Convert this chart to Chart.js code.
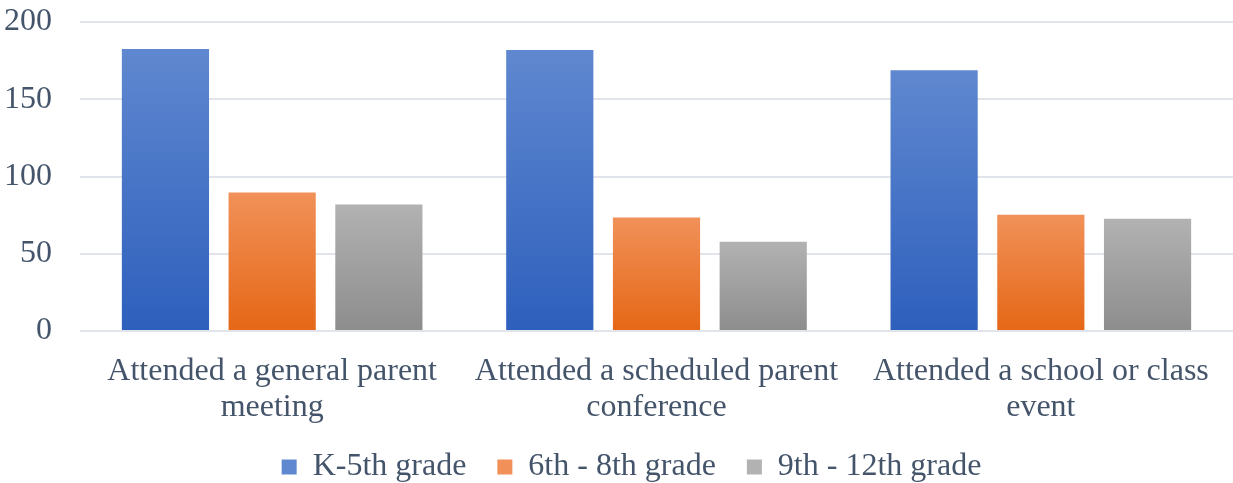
<!DOCTYPE html>
<html>
<head>
<meta charset="utf-8">
<script src="https://cdn.jsdelivr.net/npm/chart.js@4"></script>
<style>
  html, body { margin: 0; padding: 0; background: #fff; }
  #wrap { width: 1233px; height: 483px; }
</style>
</head>
<body>
<div id="wrap"><canvas id="chart"></canvas></div>
<script>
const categories = [
    ['Attended a general parent', 'meeting'],
    ['Attended a scheduled parent', 'conference'],
    ['Attended a school or class', 'event']
];
const seriesNames = ['K-5th grade', '6th - 8th grade', '9th - 12th grade'];
const k5 = [182.5, 181.8, 168.8];
const g68 = [89.6, 73.4, 75.3];
const g912 = [81.8, 57.8, 72.7];
const yTicks = [0, 50, 100, 150, 200];

// top colour, bottom colour per series
const shades = [
    ['#6088d0', '#2d5fbc'],
    ['#f19159', '#e56716'],
    ['#b2b2b2', '#8d8d8d']
];

function barFill(i) {
    return ctx => {
        const chart = ctx.chart;
        const y = chart.scales.y;
        if (!y || ctx.raw == null) return shades[i][1];
        const top = y.getPixelForValue(ctx.raw);
        const bottom = y.getPixelForValue(0);
        const g = chart.ctx.createLinearGradient(0, top, 0, bottom);
        g.addColorStop(0, shades[i][0]);
        g.addColorStop(1, shades[i][1]);
        return g;
    };
}

// excel puts the legend a bit right of centre and close under the labels
const legendNudge = {
    id: 'legendNudge',
    afterLayout(chart) {
        const lg = chart.legend;
        if (!lg) return;
        lg.left += 15; lg.right += 15;
        lg.top -= 7; lg.bottom -= 7;
    }
};

const textColor = '#44546a';
const font = 'Liberation Serif, Times New Roman, serif';

new Chart(document.getElementById('chart'), {
    type: 'bar',
    data: {
        labels: categories,
        datasets: [k5, g68, g912].map((d, i) => ({
            label: seriesNames[i],
            data: d,
            backgroundColor: barFill(i),
            borderWidth: 0,
            categoryPercentage: 0.833,
            barPercentage: 0.817
        }))
    },
    plugins: [legendNudge],
    options: {
        responsive: true,
        maintainAspectRatio: false,
        animation: false,
        layout: { padding: { top: 0, right: 0, left: 0, bottom: -17 } },
        plugins: {
            tooltip: { enabled: false },
            legend: {
                position: 'bottom',
                labels: {
                    color: textColor,
                    font: { family: font, size: 32 },
                    boxWidth: 15,
                    boxHeight: 15,
                    padding: 31,
                    generateLabels: chart => seriesNames.map((n, i) => ({
                        text: n,
                        fillStyle: shades[i][0],
                        strokeStyle: shades[i][0],
                        lineWidth: 0,
                        datasetIndex: i,
                        fontColor: textColor
                    }))
                }
            }
        },
        scales: {
            x: {
                grid: { display: false },
                border: { display: false },
                afterFit: s => { s.height = 96; },
                ticks: {
                    color: textColor,
                    font: { family: font, size: 32, lineHeight: 1.12 },
                    padding: 15,
                    maxRotation: 0,
                    autoSkip: false
                }
            },
            y: {
                min: 0,
                max: 200,
                afterBuildTicks: s => { s.ticks = yTicks.map(v => ({ value: v })); },
                afterFit: s => { s.width = 80; s.paddingTop = 22; s.paddingBottom = 0; },
                grid: { color: '#e1e4ea', lineWidth: 2, drawTicks: false },
                border: { display: false },
                ticks: {
                    color: textColor,
                    font: { family: font, size: 32 },
                    padding: 28
                }
            }
        }
    }
});
</script>
</body>
</html>
